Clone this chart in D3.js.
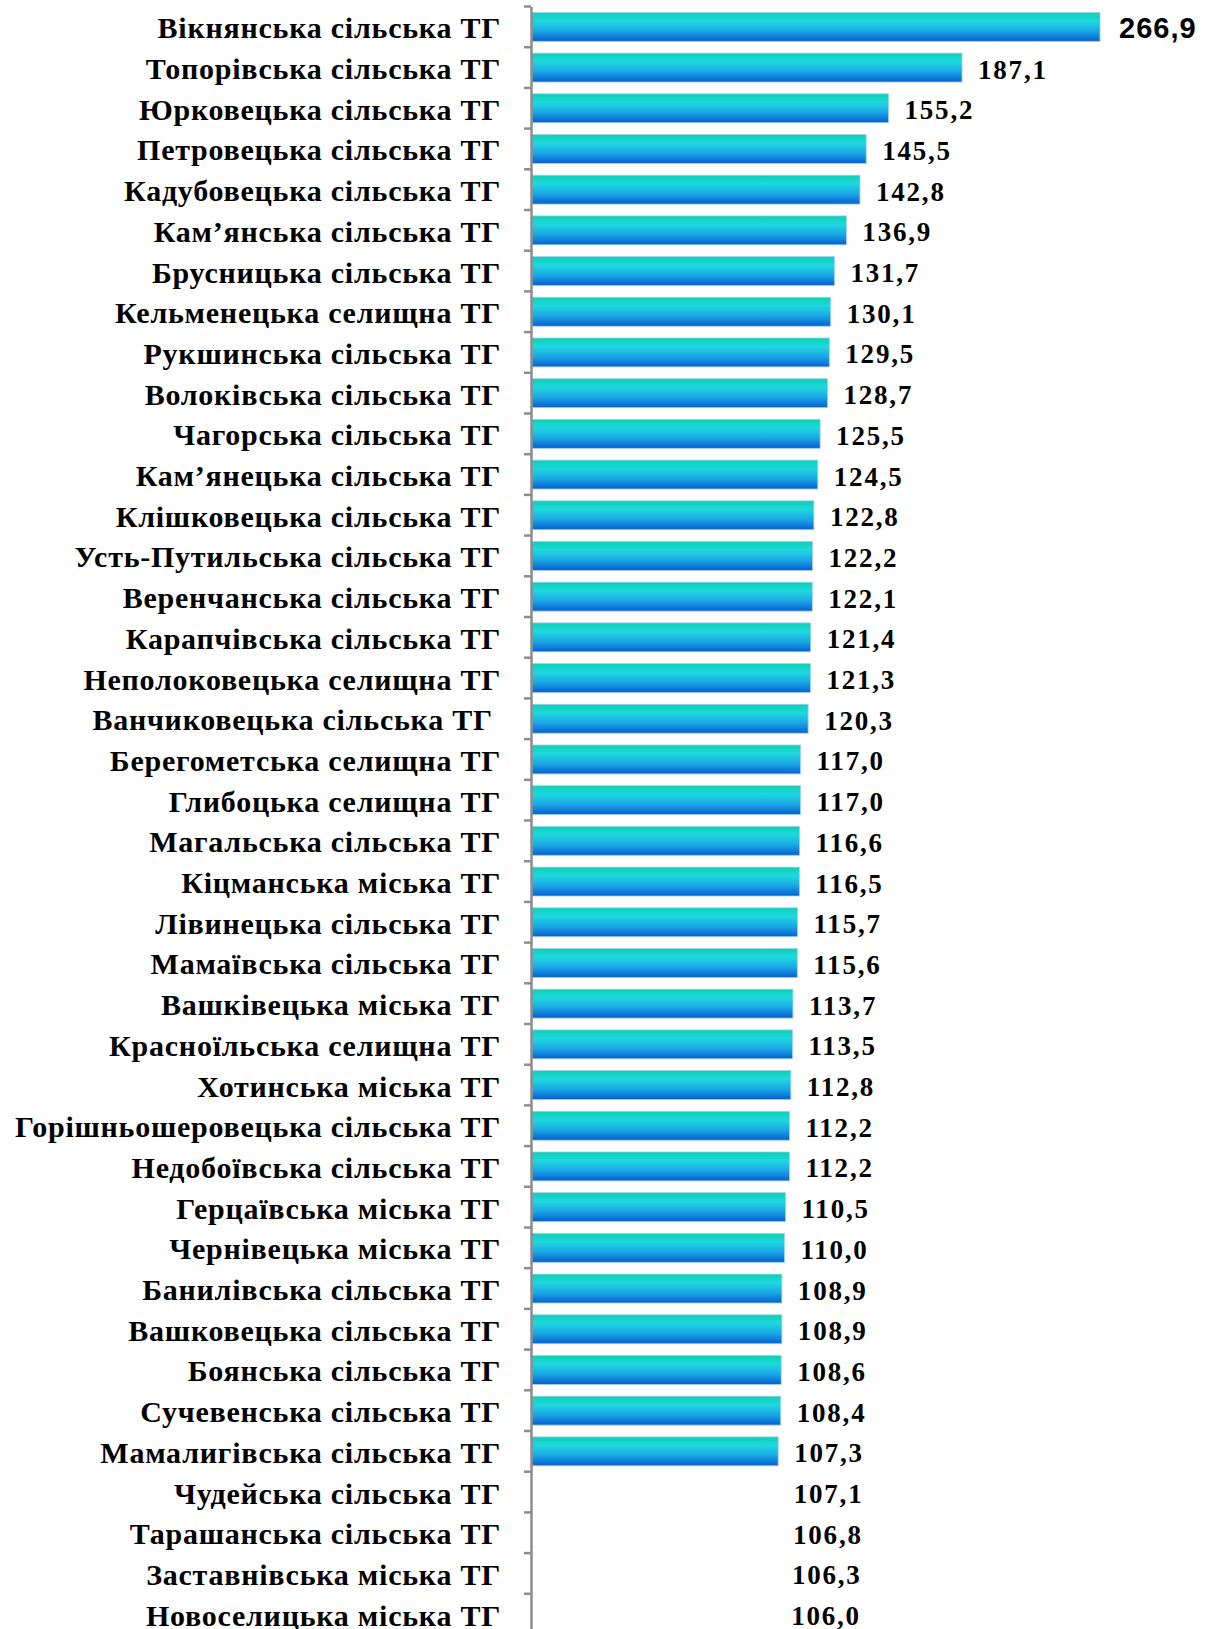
<!DOCTYPE html>
<html>
<head>
<meta charset="utf-8">
<script src="https://cdn.jsdelivr.net/npm/d3@7"></script>
<style>
  body { margin: 0; background: #fff; }
  .cat { font-family: "Liberation Serif", "Times New Roman", serif; font-weight: bold; font-size: 30px; fill: #000; white-space: pre; letter-spacing: 0.75px; }
  .val { font-family: "Liberation Serif", "Times New Roman", serif; font-weight: bold; font-size: 27px; fill: #000; letter-spacing: 1.8px; }
  .val.top { font-family: "Liberation Sans", Arial, sans-serif; font-size: 29px; letter-spacing: 1px; }
</style>
</head>
<body>
<div id="chart"></div>
<script>
// громади
const names = [
  "Вікнянська сільська ТГ", "Топорівська сільська ТГ", "Юрковецька сільська ТГ",
  "Петровецька сільська ТГ", "Кадубовецька сільська ТГ", "Кам’янська сільська ТГ",
  "Брусницька сільська ТГ", "Кельменецька селищна ТГ", "Рукшинська сільська ТГ",
  "Волоківська сільська ТГ", "Чагорська сільська ТГ", "Кам’янецька сільська ТГ",
  "Клішковецька сільська ТГ", "Усть-Путильська сільська ТГ", "Веренчанська сільська ТГ",
  "Карапчівська сільська ТГ", "Неполоковецька селищна ТГ", "Ванчиковецька сільська ТГ ",
  "Берегометська селищна ТГ", "Глибоцька селищна ТГ", "Магальська сільська ТГ",
  "Кіцманська міська ТГ", "Лівинецька сільська ТГ", "Мамаївська сільська ТГ",
  "Вашківецька міська ТГ", "Красноїльська селищна ТГ", "Хотинська міська ТГ",
  "Горішньошеровецька сільська ТГ", "Недобоївська сільська ТГ", "Герцаївська міська ТГ",
  "Чернівецька міська ТГ", "Банилівська сільська ТГ", "Вашковецька сільська ТГ",
  "Боянська сільська ТГ", "Сучевенська сільська ТГ", "Мамалигівська сільська ТГ",
  "Чудейська сільська ТГ", "Тарашанська сільська ТГ", "Заставнівська міська ТГ",
  "Новоселицька міська ТГ"
];

// значення
const values = [
  266.9, 187.1, 155.2, 145.5, 142.8, 136.9, 131.7, 130.1, 129.5, 128.7,
  125.5, 124.5, 122.8, 122.2, 122.1, 121.4, 121.3, 120.3, 117.0, 117.0,
  116.6, 116.5, 115.7, 115.6, 113.7, 113.5, 112.8, 112.2, 112.2, 110.5,
  110.0, 108.9, 108.9, 108.6, 108.4, 107.3, 107.1, 106.8, 106.3, 106.0
];

// скільки смуг зафарбовано (решта без заливки)
const filledCount = 36;
// межа осі (перша смуга обрізана)
const axisMax = 247;

const data = names.map((n, i) => ({ name: n, value: values[i], filled: i < filledCount }));

const W = 1215, H = 1629;
const svg = d3.select("#chart").append("svg")
  .attr("width", W)
  .attr("height", H);

const defs = svg.append("defs");
const grad = defs.append("linearGradient")
  .attr("id", "barGrad")
  .attr("x1", 0).attr("y1", 0).attr("x2", 0).attr("y2", 1);
grad.append("stop").attr("offset", "0%").attr("stop-color", "#0cd0b4");
grad.append("stop").attr("offset", "30%").attr("stop-color", "#1fd8de");
grad.append("stop").attr("offset", "65%").attr("stop-color", "#1aa6e6");
grad.append("stop").attr("offset", "100%").attr("stop-color", "#075ed0");

const x0 = 531;
const x = d3.scaleLinear()
  .domain([0, axisMax])
  .range([x0, 1100])
  .clamp(true);

const y = d3.scaleBand()
  .domain(names)
  .range([6.5, 6.5 + 40.7 * names.length])
  .paddingInner(0.29)
  .paddingOuter(0.145);

const fmt = d3.formatLocale({ decimal: ",", thousands: " ", grouping: [3], currency: ["", ""] }).format(".1f");

// смуги
svg.append("g")
  .selectAll("rect")
  .data(data)
  .enter().append("rect")
  .attr("x", x0 + 1)
  .attr("y", d => y(d.name))
  .attr("width", d => x(d.value) - x0 - 1)
  .attr("height", y.bandwidth())
  .attr("fill", d => d.filled ? "url(#barGrad)" : "none")
  .attr("stroke", d => d.filled ? "#9fd0f0" : "none")
  .attr("stroke-width", 0.8);

// вісь
const axis = d3.axisLeft(y).tickSize(0).tickFormat("");
const gAxis = svg.append("g")
  .attr("transform", `translate(${x0},0)`)
  .call(axis);
gAxis.select(".domain").attr("stroke", "#8c8c8c").attr("stroke-width", 2.5);

// поділки між категоріями
const step = y.step();
const tickYs = d3.range(names.length + 1).map(i => y.range()[0] + i * step);
gAxis.selectAll(".sep")
  .data(tickYs)
  .enter().append("line")
  .attr("class", "sep")
  .attr("x1", -7).attr("x2", 0)
  .attr("y1", d => d).attr("y2", d => d)
  .attr("stroke", "#8c8c8c")
  .attr("stroke-width", 2.5);

// підписи категорій
svg.append("g")
  .selectAll("text")
  .data(data)
  .enter().append("text")
  .attr("class", "cat")
  .attr("text-anchor", "end")
  .attr("x", 501)
  .attr("y", d => y(d.name) + y.bandwidth() / 2 + 11.5)
  .text(d => d.name);

// значення
svg.append("g")
  .selectAll("text")
  .data(data)
  .enter().append("text")
  .attr("class", (d, i) => i === 0 ? "val top" : "val")
  .attr("x", d => (d.value > axisMax ? 1100 : x(d.value)) + (d.value > axisMax ? 19 : 16))
  .attr("y", d => y(d.name) + y.bandwidth() / 2 + 11)
  .text(d => fmt(d.value));
</script>
</body>
</html>
